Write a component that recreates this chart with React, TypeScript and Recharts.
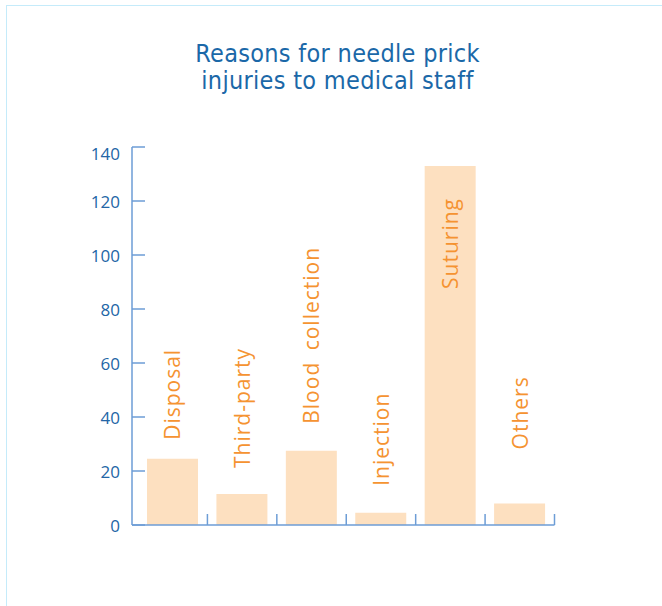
import { BarChart, Bar, XAxis, YAxis, LabelList } from "recharts";

const categories = [
  "Disposal",
  "Third-party",
  "Blood collection",
  "Injection",
  "Suturing",
  "Others",
];
const injuries = [24.5, 11.5, 27.5, 4.5, 133, 8];
const yTicks = [0, 20, 40, 60, 80, 100, 120, 140];

// distance from bar top to start of the rotated label (negative = inside bar)
const labelGap = [19, 26, 27, 27, -123, 54];

const data = categories.map((name, i) => ({ name, value: injuries[i] }));

const W = 662;
const H = 606;
const PLOT_LEFT = 132;
const PLOT_RIGHT = 554.5;
const PAD_LEFT = 6;
const BAND = (PLOT_RIGHT - PLOT_LEFT - PAD_LEFT) / categories.length;

const AXIS = "#6d9dd6";
const TICK_TEXT = "#2366a6";
const BAR = "#fde0c0";
const LABEL = "#f59331";

const renderXTick = (props: any) => {
  const { x, y } = props;
  const bx = x + BAND / 2;
  return (
    <line x1={bx} y1={y} x2={bx} y2={y - 11} stroke={AXIS} strokeWidth={1.5} />
  );
};

const renderYTick = (props: any) => {
  const { x, y, payload } = props;
  const dy = payload.value === 140 ? 6 : 0;
  return (
    <g>
      <line x1={x} y1={y} x2={x + 13} y2={y} stroke={AXIS} strokeWidth={1.5} />
      <text
        x={x - 12}
        y={y + dy}
        textAnchor="end"
        dominantBaseline="central"
        fill={TICK_TEXT}
        fontSize={17}
        fontFamily="Open Sans"
      >
        {payload.value}
      </text>
    </g>
  );
};

const renderBarLabel = (props: any) => {
  const { x, y, width, index } = props;
  const cx = x + width / 2;
  const sy = y - labelGap[index];
  return (
    <text
      x={cx}
      y={sy}
      transform={`rotate(-90 ${cx} ${sy})`}
      textAnchor="start"
      dominantBaseline="central"
      fill={LABEL}
      fontSize={21}
      fontFamily="Open Sans"
      letterSpacing={1}
      wordSpacing={5}
    >
      {categories[index]}
    </text>
  );
};

export default function App() {
  return (
    <div
      style={{
        position: "absolute",
        left: 0,
        top: 0,
        width: W,
        height: H,
        background: "#fff",
      }}
    >
      <div
        style={{
          position: "absolute",
          left: 6,
          top: 5,
          right: 0,
          bottom: 0,
          borderLeft: "1.5px solid #c5ebfa",
          borderTop: "1.5px solid #c5ebfa",
        }}
      />
      <div
        style={{
          position: "absolute",
          left: 0,
          top: 40,
          width: 675,
          textAlign: "center",
          fontFamily: "DejaVu Sans Condensed",
          fontSize: 25,
          letterSpacing: 0.3,
          lineHeight: "27px",
          color: "#1b68a8",
        }}
      >
        Reasons for needle prick
        <br />
        injuries to medical staff
      </div>
      <div style={{ position: "absolute", left: 0, top: 0 }}>
        <BarChart
          width={W}
          height={H}
          data={data}
          margin={{ top: 147, right: W - PLOT_RIGHT, bottom: 51, left: 72 }}
          barSize={51}
        >
          <XAxis
            dataKey="name"
            height={30}
            padding={{ left: PAD_LEFT, right: 0 }}
            axisLine={{ stroke: AXIS, strokeWidth: 1.5 }}
            tickLine={false}
            tickSize={0}
            tickMargin={0}
            tick={renderXTick}
            interval={0}
          />
          <YAxis
            width={60}
            domain={[0, 140]}
            ticks={yTicks}
            axisLine={{ stroke: AXIS, strokeWidth: 1.5 }}
            tickLine={false}
            tickSize={0}
            tickMargin={0}
            tick={renderYTick}
            interval={0}
          />
          <Bar dataKey="value" fill={BAR} isAnimationActive={false}>
            <LabelList dataKey="value" content={renderBarLabel} />
          </Bar>
        </BarChart>
      </div>
    </div>
  );
}
